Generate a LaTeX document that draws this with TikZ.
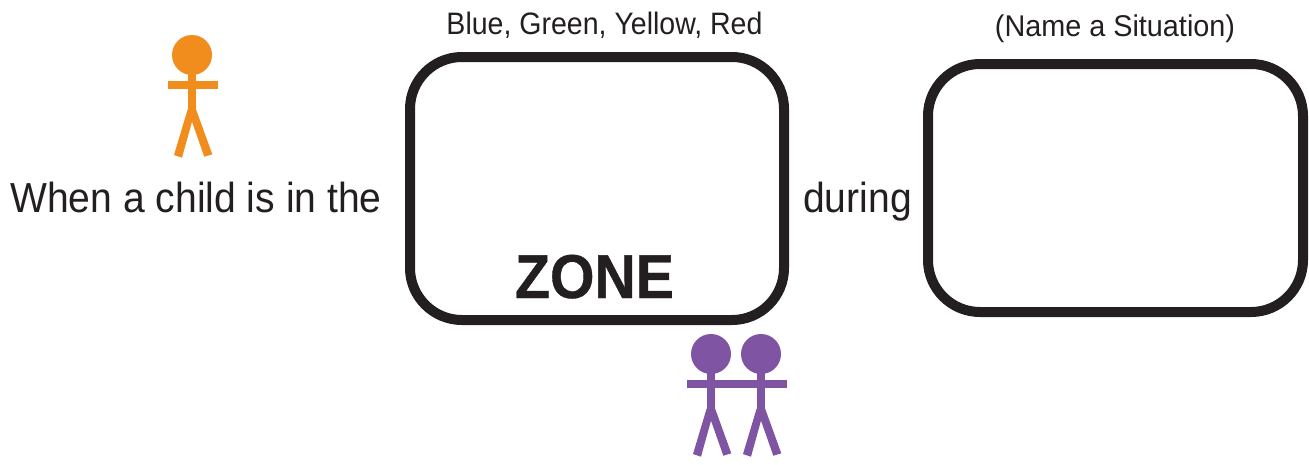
\documentclass[tikz,border=0pt]{standalone}
\usepackage{fontspec}
\setmainfont{Liberation Sans}
\newfontfamily\bodyfont[FakeStretch=0.93]{Liberation Sans}
\newfontfamily\bluefont[FakeStretch=0.92]{Liberation Sans}
\newfontfamily\namefont[FakeStretch=0.96]{Liberation Sans}
\newfontfamily\zonefont[FakeStretch=0.923,FakeBold=0.6]{Liberation Sans Bold}
\definecolor{ink}{HTML}{231F20}
\definecolor{orangefig}{HTML}{F08D1D}
\definecolor{purplefig}{HTML}{7F55A3}
\tikzset{
  zonebox/.style={draw=ink,line width=10pt,rounded corners=52pt,fill=none,outer sep=0pt,anchor=north west},
  label/.style={inner sep=0pt,text=ink,anchor=base},
  limb/.style={line width=8pt,line cap=butt}
}
\newcommand{\stickfig}[4]{% name, x, head y, colour
  \fill[#4] (#2,-#3) circle (20);
  \draw[limb,#4] (#2,-#3-18) -- (#2,-#3-56);
  \fill[#4] (#2-4.3,-#3-54.3) -- (#2-18,-#3-100) -- (#2-10,-#3-102.7) -- (#2,-#3-66.7)
     -- (#2+12.3,-#3-101.7) -- (#2+20.3,-#3-99.3) -- (#2+4,-#3-54.3) -- cycle;
}
\begin{document}
\begin{tikzpicture}[x=1pt,y=1pt]
\useasboundingbox (0,-464) rectangle (1309,0);
\node[zonebox,minimum width=374pt,minimum height=263pt] (zone) at (410,-57) {};
\node[zonebox,minimum width=375pt,minimum height=248pt] (situation) at (928,-64) {};
\node[label,font=\bluefont\fontsize{31}{31}\selectfont] (blue) at (604.5,-34) {Blue, Green, Yellow, Red};
\node[label,font=\namefont\fontsize{30}{30}\selectfont] (name) at (1115,-36) {(Name a Situation)};
\node[label,font=\bodyfont\fontsize{42}{42}\selectfont] (when) at (196,-212) {When a child is in the};
\node[label,font=\bodyfont\fontsize{42}{42}\selectfont] (during) at (857.5,-212) {during};
\node[label,font=\zonefont\fontsize{62}{62}\selectfont] (zonetext) at (594.5,-298) {ZONE};
\stickfig{o}{192}{55}{orangefig}
\coordinate (oarml) at (168,-84.7);
\coordinate (oarmr) at (218,-84.7);
\draw[limb,orangefig] (oarml) -- (oarmr);
\stickfig{p}{711}{354}{purplefig}
\stickfig{q}{761}{354}{purplefig}
\coordinate (parml) at (687,-384.3);
\coordinate (parmr) at (787,-384.3);
\draw[limb,purplefig] (parml) -- (parmr);
\end{tikzpicture}
\end{document}
